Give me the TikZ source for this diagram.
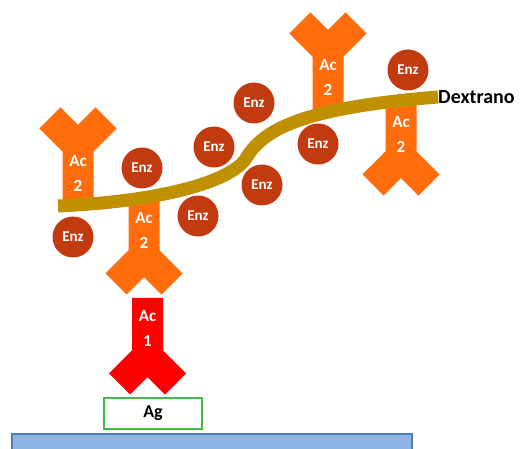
\documentclass[tikz,border=0pt]{standalone}
\usepackage{fontspec}
\setmainfont{Carlito}
\usetikzlibrary{positioning}
\definecolor{AbOrange}{HTML}{FF6C0C}
\definecolor{AbRed}{HTML}{FF0000}
\definecolor{EnzRed}{HTML}{C23A10}
\definecolor{DexGold}{HTML}{BF9000}
\definecolor{AgGreen}{HTML}{44BB44}
\definecolor{PlateFill}{HTML}{8EB4E3}
\definecolor{PlateLine}{HTML}{4A7EBB}

% antibody: stem above the junction, two arms at 45 degrees below it
\tikzset{
  pics/antibody/.style={code={
    \path[pic actions] (-15.5,-58) -- (15.5,-58) -- (15.5,-5.7) -- (38.6,17.4)
      -- (17.4,38.6) -- (0,21.2) -- (-17.4,38.6) -- (-38.6,17.4)
      -- (-15.5,-5.7) -- cycle;
  }}
}

\begin{document}
\begin{tikzpicture}[
  x=1pt, y=-1pt,
  ablabel/.style={text=white, align=center, font=\fontsize{17}{25}\selectfont\bfseries},
  enz/.style={circle, fill=EnzRed, minimum size=41pt, inner sep=0pt, text=white, font=\fontsize{15}{17}\selectfont\bfseries},
  dextran/.style={draw=DexGold, line width=13pt},
  agbox/.style={draw=AgGreen, line width=2.5pt, fill=white, minimum width=98pt, minimum height=31pt, inner sep=0pt, font=\fontsize{18}{20}\selectfont\bfseries}
]
\useasboundingbox (0,0) rectangle (520,449);
\clip (0,0) rectangle (520,449);

% plate and antigen
\draw[draw=PlateLine, fill=PlateFill, line width=2pt] (12,434) rectangle (412,460);
\node[agbox] (ag) at (153,413.5) {Ag};

% capture antibody
\pic[fill=AbRed] (ac1) at (147.5,356) {antibody};
\node[ablabel] (lab1) at (147.5,328) {Ac\\1};

% antibodies on the dextran chain
\pic[fill=AbOrange] (ac2b) at (144,256) {antibody};
\pic[fill=AbOrange] (ac2d) at (401,157) {antibody};
\pic[fill=AbOrange, yscale=-1] (ac2a) at (78,146) {antibody};
\pic[fill=AbOrange, yscale=-1] (ac2c) at (328,51) {antibody};
\node[ablabel] (lab2a) at (78,173) {Ac\\2};
\node[ablabel] (lab2b) at (144,230) {Ac\\2};
\node[ablabel] (lab2c) at (328,77) {Ac\\2};
\node[ablabel] (lab2d) at (401,134) {Ac\\2};

% dextran chain
\coordinate (dexL) at (58,206);
\coordinate (dexM) at (245,160);
\coordinate (dexR) at (438,97);
\draw[dextran] (dexL) .. controls (150,202) and (225,185) .. (dexM)
  .. controls (262,130) and (300,108) .. (dexR);
\node[anchor=west, inner sep=0pt, font=\fontsize{20}{22}\selectfont\bfseries] (dex) at (dexR) {Dextrano};

% enzymes
\node[enz] (enz1) at (73,237) {Enz};
\node[enz] (enz2) at (142,168) {Enz};
\node[enz] (enz3) at (198,216) {Enz};
\node[enz] (enz4) at (214,147) {Enz};
\node[enz] (enz5) at (254,103) {Enz};
\node[enz] (enz6) at (262,185) {Enz};
\node[enz] (enz7) at (318,144) {Enz};
\node[enz] (enz8) at (408,70) {Enz};
\end{tikzpicture}
\end{document}
